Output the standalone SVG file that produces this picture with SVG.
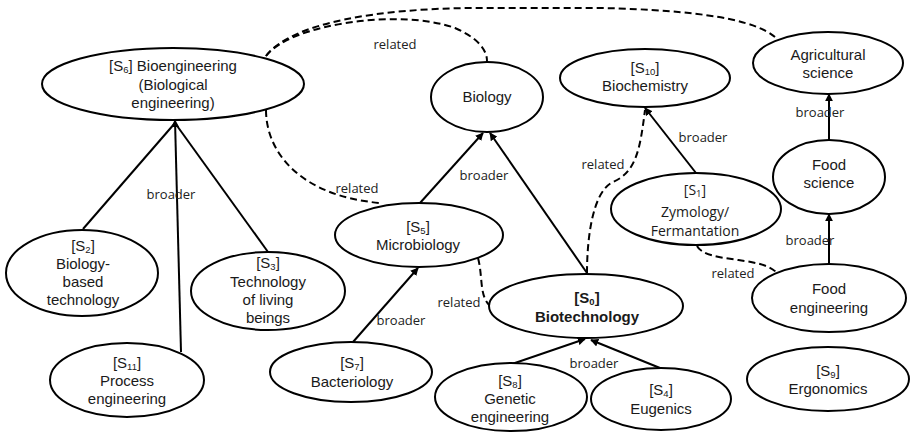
<svg xmlns="http://www.w3.org/2000/svg" width="913" height="435" viewBox="0 0 913 435">
<defs>
<marker id="arr" viewBox="0 0 10 10" refX="9" refY="5" markerWidth="8" markerHeight="8" markerUnits="userSpaceOnUse" orient="auto">
<path d="M0,0 L10,5 L0,10 z" fill="#000"/>
</marker>
</defs>
<style>
.n ellipse{fill:#fff;stroke:#000;stroke-width:2}
.n text{font-family:"Liberation Sans",Arial,sans-serif;font-size:15px;fill:#1a1a1a;text-anchor:middle}
.n text.c{font-family:"Open Sans","Noto Sans",sans-serif;font-size:14px}
.n text.b{font-weight:bold}
.n tspan.s{font-size:9.5px}
.e line,.e path{stroke:#000;stroke-width:2;fill:none}
.e .d{stroke-dasharray:7 4}
.e .a{marker-end:url(#arr)}
.lbl{font-family:"Open Sans","Noto Sans",sans-serif;font-size:13px;fill:#222;text-anchor:middle}
</style>
<rect width="913" height="435" fill="#fff"/>
<g id="connectors" class="e">
<path class="d" d="M266,56 C290,24 400,8 455,28 C478,38 487,50 487,61"/>
<path class="d" d="M266,56 C292,22 380,9 470,8 L600,8 C700,10 755,20 775,37"/>
<path class="d" d="M266,110 C266,152 300,196 380,203"/>
<path class="d" d="M478,258 C483,276 479,296 490,306"/>
<path class="d" d="M587,273 C587,240 592,192 613,182 C636,172 640,150 645,110"/>
<path class="d" d="M697,246 C706,263 760,256 776,272"/>
<line x1="83" y1="229" x2="175" y2="123"/>
<line x1="268" y1="252" x2="175" y2="123"/>
<line class="a" x1="181" y1="352" x2="175" y2="120"/>
<line class="a" x1="353" y1="342" x2="418" y2="268"/>
<line class="a" x1="420" y1="203" x2="483" y2="133"/>
<line class="a" x1="587" y1="273" x2="490" y2="133"/>
<line class="a" x1="696" y1="173" x2="645" y2="108"/>
<line class="a" x1="829" y1="140" x2="829" y2="94"/>
<line class="a" x1="829" y1="264" x2="829" y2="214"/>
<line class="a" x1="512" y1="364" x2="585" y2="339"/>
<line class="a" x1="660" y1="368" x2="591" y2="340"/>
<text class="lbl" x="395" y="49">related</text>
<text class="lbl" x="171" y="199">broader</text>
<text class="lbl" x="357" y="193">related</text>
<text class="lbl" x="484" y="180">broader</text>
<text class="lbl" x="603" y="169">related</text>
<text class="lbl" x="703" y="142">broader</text>
<text class="lbl" x="820" y="117">broader</text>
<text class="lbl" x="810" y="245">broader</text>
<text class="lbl" x="733" y="278">related</text>
<text class="lbl" x="459" y="307">related</text>
<text class="lbl" x="594" y="368">broader</text>
<text class="lbl" x="401" y="325">broader</text>
</g>
<g id="S6" class="n"><ellipse cx="173" cy="84" rx="131" ry="36"/>
<text x="173" y="71">[S<tspan class="s" dy="2">6</tspan><tspan dy="-2">] Bioengineering</tspan></text>
<text x="173" y="90">(Biological</text><text x="173" y="108">engineering)</text></g>
<g id="Biology" class="n"><ellipse cx="487" cy="97" rx="56" ry="35"/><text x="487" y="102">Biology</text></g>
<g id="S10" class="n"><ellipse cx="645" cy="78" rx="85" ry="29"/>
<text x="645" y="73">[S<tspan class="s" dy="2">10</tspan><tspan dy="-2">]</tspan></text>
<text x="645" y="91">Biochemistry</text></g>
<g id="Agri" class="n"><ellipse cx="828" cy="63" rx="75" ry="31"/><text x="828" y="60">Agricultural</text><text x="828" y="78">science</text></g>
<g id="FoodSci" class="n"><ellipse cx="829" cy="177" rx="56" ry="37"/><text x="829" y="170">Food</text><text x="829" y="188">science</text></g>
<g id="S1" class="n"><ellipse cx="696" cy="209" rx="85" ry="36"/>
<text class="c" x="695" y="195">[S<tspan class="s" dy="2">1</tspan><tspan dy="-2">]</tspan></text>
<text class="c" x="695" y="217">Zymology/</text><text class="c" x="695" y="236">Fermantation</text></g>
<g id="FoodEng" class="n"><ellipse cx="829" cy="298" rx="77" ry="34"/><text x="829" y="294">Food</text><text x="829" y="313">engineering</text></g>
<g id="S9" class="n"><ellipse cx="828" cy="379" rx="81" ry="32"/>
<text x="828" y="376">[S<tspan class="s" dy="2">9</tspan><tspan dy="-2">]</tspan></text>
<text x="828" y="394">Ergonomics</text></g>
<g id="S0" class="n"><ellipse cx="586" cy="306" rx="97" ry="32"/>
<text class="b" x="587" y="303">[S<tspan class="s" dy="2">0</tspan><tspan dy="-2">]</tspan></text>
<text class="b" x="587" y="322">Biotechnology</text></g>
<g id="S8" class="n"><ellipse cx="511" cy="397" rx="76" ry="34"/>
<text x="510" y="386">[S<tspan class="s" dy="2">8</tspan><tspan dy="-2">]</tspan></text>
<text x="510" y="404">Genetic</text><text x="510" y="422">engineering</text></g>
<g id="S4" class="n"><ellipse cx="661" cy="399" rx="70" ry="31"/>
<text x="661" y="395">[S<tspan class="s" dy="2">4</tspan><tspan dy="-2">]</tspan></text>
<text x="661" y="414">Eugenics</text></g>
<g id="S5" class="n"><ellipse cx="419" cy="235" rx="84" ry="32"/>
<text x="418" y="232">[S<tspan class="s" dy="2">5</tspan><tspan dy="-2">]</tspan></text>
<text x="418" y="250">Microbiology</text></g>
<g id="S7" class="n"><ellipse cx="351" cy="372" rx="81" ry="30"/>
<text x="352" y="368">[S<tspan class="s" dy="2">7</tspan><tspan dy="-2">]</tspan></text>
<text x="352" y="387">Bacteriology</text></g>
<g id="S2" class="n"><ellipse cx="82" cy="273" rx="76" ry="43"/>
<text x="83" y="251">[S<tspan class="s" dy="2">2</tspan><tspan dy="-2">]</tspan></text>
<text x="83" y="269">Biology-</text><text x="83" y="287">based</text><text x="83" y="305">technology</text></g>
<g id="S3" class="n"><ellipse cx="268" cy="291" rx="77" ry="39"/>
<text x="268" y="268">[S<tspan class="s" dy="2">3</tspan><tspan dy="-2">]</tspan></text>
<text x="268" y="287">Technology</text><text x="268" y="305">of living</text><text x="268" y="323">beings</text></g>
<g id="S11" class="n"><ellipse cx="127" cy="380" rx="77" ry="37"/>
<text x="127" y="368">[S<tspan class="s" dy="2">11</tspan><tspan dy="-2">]</tspan></text>
<text x="127" y="386">Process</text><text x="127" y="404">engineering</text></g>
</svg>
